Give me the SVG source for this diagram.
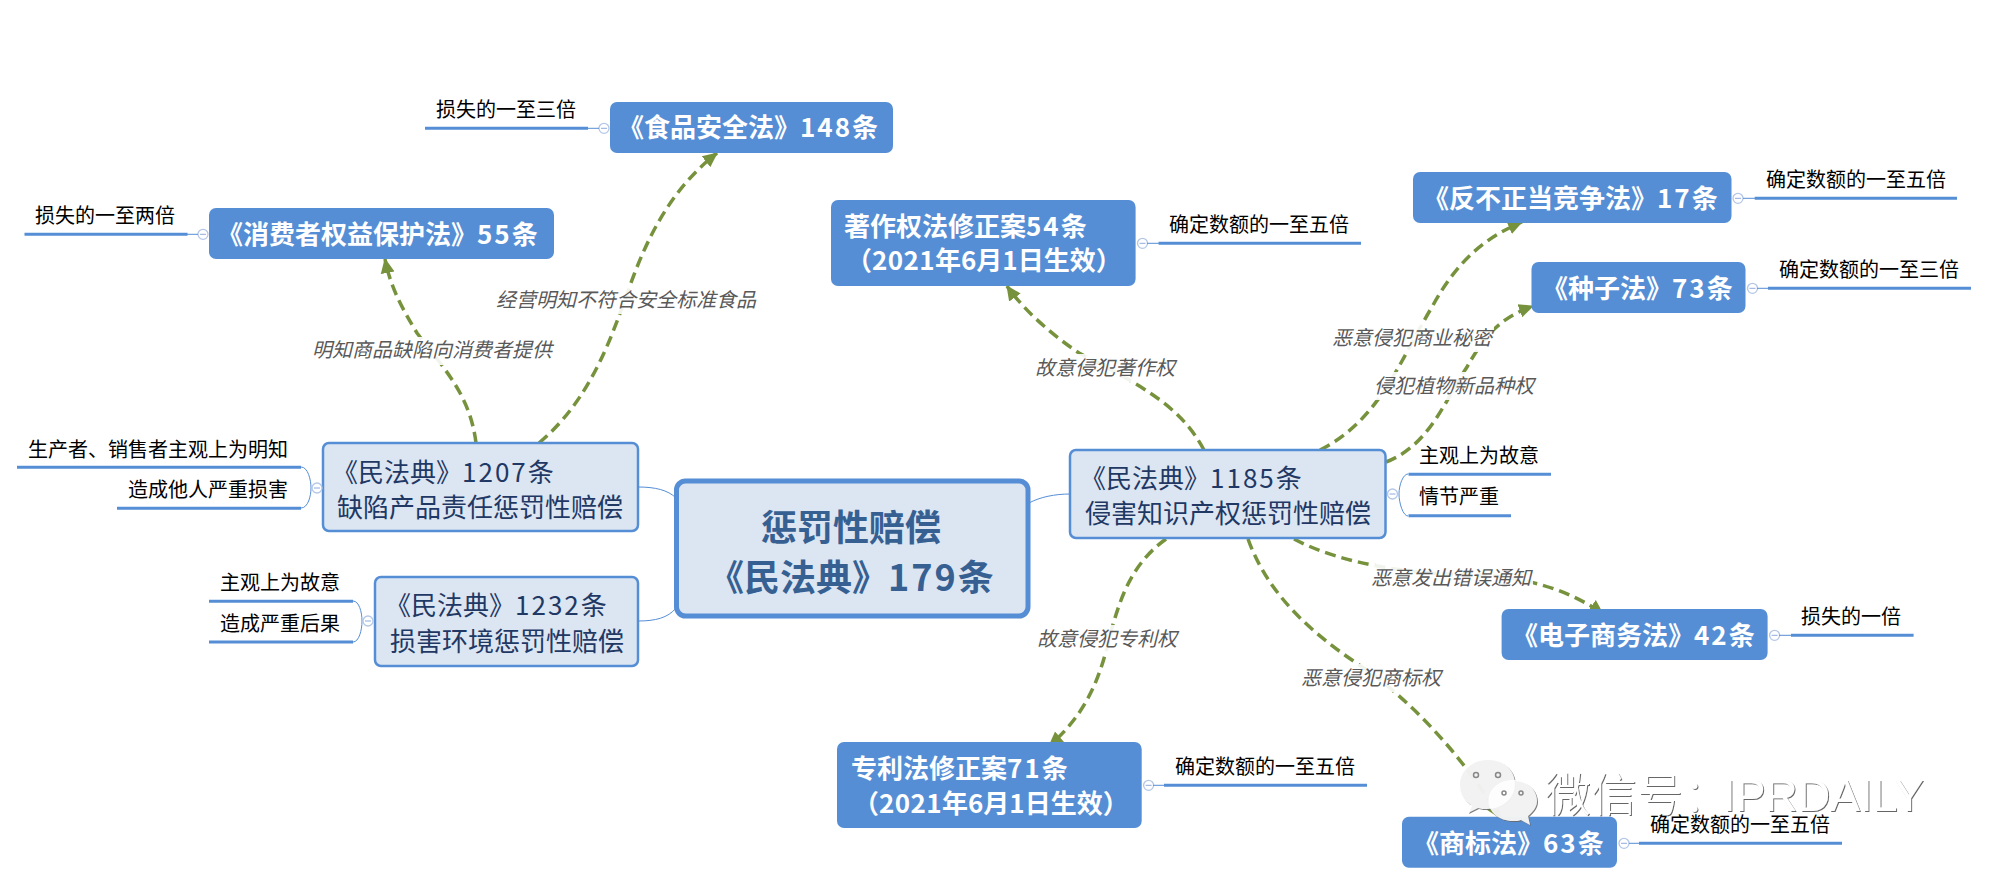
<svg xmlns="http://www.w3.org/2000/svg" width="1989" height="884" viewBox="0 0 1989 884">
<defs>
<style>
text{font-family:"Noto Sans CJK SC","Liberation Sans",sans-serif}
.dk{fill:#558ed5;stroke:none}
.dkt{fill:#fff;font-size:26px;font-weight:700}
.lt{fill:#dce6f2;stroke:#558ed5;stroke-width:2.5}
.ltt{fill:#1f3864;font-size:26px}
.d{letter-spacing:2px}
.d2{letter-spacing:.4px}
.it{fill:#000;font-size:20px}
.ul{stroke:#558ed5;stroke-width:3;fill:none}
.thin{stroke:#558ed5;stroke-width:1;fill:none}
.col{fill:#fff;stroke:#b4c7e7;stroke-width:1.3}
.min{stroke:#8faadc;stroke-width:1}
.rel{stroke:#76923c;stroke-width:3.5;stroke-dasharray:11 6;fill:none;marker-end:url(#ah)}
.lb{fill:#595959;font-size:20px;font-style:italic}
.bg{fill:#fff;fill-opacity:.9}
</style>
<marker id="ah" markerUnits="userSpaceOnUse" markerWidth="16" markerHeight="16" refX="14" refY="8" orient="auto"><path d="M0 1L15 8L0 15z" fill="#76923c"/></marker>
<filter id="emb" x="-5%" y="-10%" width="110%" height="120%"><feDropShadow dx="1" dy="1" stdDeviation="0.4" flood-color="#666"/></filter>
</defs>
<rect width="1989" height="884" fill="#fff"/>
<g id="connectors">
<path class="thin" d="M638 487C655 487 668 490 676 498"/>
<path class="thin" d="M638 621C655 621 668 618 676 608"/>
<path class="thin" d="M1029 503C1040 497 1055 494 1070 494"/>
<path class="thin" d="M301 467C308 467 311 480 311 488C311 496 308 508 301 508"/>
<path class="thin" d="M353 601C359 601 362 612 362 621C362 630 359 642 353 642"/>
<path class="thin" d="M1408 474C1403 474 1399 485 1399 494C1399 503 1403 516 1408 516"/>
<path class="rel" d="M476 443C470 395 445 370 417 333C400 305 390 285 385 259"/>
<path class="rel" d="M539 443C590 400 610 340 625 300C645 240 670 190 717 153"/>
<path class="rel" d="M1204 450C1180 405 1140 385 1079 353C1045 330 1020 305 1007 286"/>
<path class="rel" d="M1320 450C1380 420 1400 360 1432 307C1455 265 1480 240 1522 222"/>
<path class="rel" d="M1386 462C1430 445 1445 400 1467 367C1485 335 1500 318 1533 306"/>
<path class="rel" d="M1294 539C1345 566 1420 575 1480 575C1525 577 1570 590 1603 614"/>
<path class="rel" d="M1166 539C1130 565 1120 600 1110 635C1100 680 1085 715 1049 746"/>
<path class="rel" d="M1248 539C1270 600 1320 640 1370 672C1420 710 1465 760 1500 818"/>
</g>
<g id="relation-labels">
<rect class="bg" x="312" y="337" width="241" height="28"/><text class="lb" x="312" y="357">明知商品缺陷向消费者提供</text>
<rect class="bg" x="496" y="286" width="261" height="28"/><text class="lb" x="496" y="307">经营明知不符合安全标准食品</text>
<rect class="bg" x="1036" y="354" width="141" height="28"/><text class="lb" x="1035" y="375">故意侵犯著作权</text>
<rect class="bg" x="1334" y="324" width="160" height="28"/><text class="lb" x="1332" y="345">恶意侵犯商业秘密</text>
<rect class="bg" x="1375" y="372" width="160" height="28"/><text class="lb" x="1374" y="393">侵犯植物新品种权</text>
<rect class="bg" x="1372" y="564" width="161" height="28"/><text class="lb" x="1371" y="585">恶意发出错误通知</text>
<rect class="bg" x="1038" y="625" width="140" height="28"/><text class="lb" x="1037" y="646">故意侵犯专利权</text>
<rect class="bg" x="1303" y="664" width="141" height="28"/><text class="lb" x="1301" y="685">恶意侵犯商标权</text>
</g>
<g id="central"><rect x="676.5" y="481" width="351.5" height="135" rx="9" fill="#dce6f2" stroke="#558ed5" stroke-width="5"/><text fill="#376092" font-size="36" font-weight="700"><tspan x="761" y="541">惩罚性赔偿</tspan><tspan x="708" y="591">《民法典》<tspan class="d">179</tspan>条</tspan></text></g>
<g id="n1207"><rect class="lt" x="323" y="443" width="315" height="88" rx="6"/><text class="ltt"><tspan x="332" y="482">《民法典》<tspan class="d">1207</tspan>条</tspan><tspan x="337" y="517">缺陷产品责任惩罚性赔偿</tspan></text><circle class="col" cx="317" cy="488" r="5"/><path class="min" d="M314 488h6"/></g>
<g id="n1232"><rect class="lt" x="375" y="577" width="263" height="89" rx="6"/><text class="ltt"><tspan x="385" y="615">《民法典》<tspan class="d">1232</tspan>条</tspan><tspan x="390" y="651">损害环境惩罚性赔偿</tspan></text><circle class="col" cx="368" cy="621" r="5"/><path class="min" d="M365 621h6"/></g>
<g id="n1185"><rect class="lt" x="1070" y="450" width="315.500" height="88" rx="6"/><text class="ltt"><tspan x="1080" y="488">《民法典》<tspan class="d">1185</tspan>条</tspan><tspan x="1085" y="523">侵害知识产权惩罚性赔偿</tspan></text><circle class="col" cx="1392.500" cy="494" r="5"/><path class="min" d="M1389.500 494h6"/></g>
<g id="i-1207a"><text class="it" x="28" y="457">生产者、销售者主观上为明知</text><path class="ul" d="M17 467.300H301"/></g>
<g id="i-1207b"><text class="it" x="128" y="497">造成他人严重损害</text><path class="ul" d="M117 508.300H301"/></g>
<g id="i-1232a"><text class="it" x="220" y="590">主观上为故意</text><path class="ul" d="M209 601.300H353"/></g>
<g id="i-1232b"><text class="it" x="220" y="631">造成严重后果</text><path class="ul" d="M209 642H353"/></g>
<g id="i-1185a"><text class="it" x="1419" y="463">主观上为故意</text><path class="ul" d="M1408.500 474.300H1551"/></g>
<g id="i-1185b"><text class="it" x="1419" y="504">情节严重</text><path class="ul" d="M1408.500 515.700H1511"/></g>
<g id="food"><rect class="dk" x="610" y="102" width="283" height="51" rx="7"/><text class="dkt" x="618" y="137">《食品安全法》<tspan class="d">148</tspan>条</text><circle class="col" cx="604" cy="128.300" r="5"/><path class="min" d="M601 128.300h6"/><path class="thin" d="M588 128.300H599"/><text class="it" x="436" y="117">损失的一至三倍</text><path class="ul" d="M425 128.300H588"/></g>
<g id="consumer"><rect class="dk" x="209" y="208" width="345" height="51" rx="7"/><text class="dkt" x="217" y="244">《消费者权益保护法》<tspan class="d">55</tspan>条</text><circle class="col" cx="203" cy="234.300" r="5"/><path class="min" d="M200 234.300h6"/><path class="thin" d="M187 234.300H198"/><text class="it" x="35" y="223">损失的一至两倍</text><path class="ul" d="M24.500 234.300H187.500"/></g>
<g id="copyright"><rect class="dk" x="831" y="200" width="304.600" height="86" rx="7"/><text class="dkt"><tspan x="844" y="236">著作权法修正案<tspan class="d">54</tspan>条</tspan><tspan x="846" y="270">（<tspan class="d2">2021</tspan>年6月1日生效）</tspan></text><circle class="col" cx="1142.500" cy="243.300" r="5"/><path class="min" d="M1139.500 243.300h6"/><path class="thin" d="M1147 243.300H1159"/><text class="it" x="1169" y="232">确定数额的一至五倍</text><path class="ul" d="M1158.600 243.300H1361"/></g>
<g id="unfair"><rect class="dk" x="1413" y="172" width="318.500" height="51" rx="7"/><text class="dkt" x="1423" y="208">《反不正当竞争法》<tspan class="d">17</tspan>条</text><circle class="col" cx="1738" cy="198.300" r="5"/><path class="min" d="M1735 198.300h6"/><path class="thin" d="M1743 198.300H1755"/><text class="it" x="1766" y="187">确定数额的一至五倍</text><path class="ul" d="M1754.700 198.300H1957"/></g>
<g id="seed"><rect class="dk" x="1531.500" y="262" width="214" height="51" rx="7"/><text class="dkt" x="1542" y="298">《种子法》<tspan class="d">73</tspan>条</text><circle class="col" cx="1752.500" cy="288.300" r="5"/><path class="min" d="M1749.500 288.300h6"/><path class="thin" d="M1757 288.300H1768"/><text class="it" x="1779" y="277">确定数额的一至三倍</text><path class="ul" d="M1768 288.300H1971"/></g>
<g id="ecom"><rect class="dk" x="1501.600" y="609" width="266" height="51" rx="7"/><text class="dkt" x="1512" y="645">《电子商务法》<tspan class="d">42</tspan>条</text><circle class="col" cx="1774.600" cy="635.300" r="5"/><path class="min" d="M1771.600 635.300h6"/><path class="thin" d="M1779 635.300H1791"/><text class="it" x="1801" y="624">损失的一倍</text><path class="ul" d="M1791 635.300H1913.600"/></g>
<g id="patent"><rect class="dk" x="837" y="742" width="304.700" height="86" rx="7"/><text class="dkt"><tspan x="851" y="778">专利法修正案<tspan class="d">71</tspan>条</tspan><tspan x="853" y="813">（<tspan class="d2">2021</tspan>年6月1日生效）</tspan></text><circle class="col" cx="1148.600" cy="785.300" r="5"/><path class="min" d="M1145.600 785.300h6"/><path class="thin" d="M1153 785.300H1164"/><text class="it" x="1175" y="774">确定数额的一至五倍</text><path class="ul" d="M1164 785.300H1367"/></g>
<g id="trademark"><rect class="dk" x="1402" y="816.700" width="215" height="51" rx="7"/><text class="dkt" x="1413" y="853">《商标法》<tspan class="d">63</tspan>条</text></g>
<g id="watermark" filter="url(#emb)" fill="#fff">
<path fill-opacity=".85" d="M1487 759C1471 759 1459 770 1459 784C1459 793 1464 800 1471 805L1468 813L1478 808C1481 809 1484 809 1487 809C1503 809 1515 798 1515 784C1515 770 1503 759 1487 759z"/>
<path fill-opacity=".85" d="M1513 780C1499 780 1488.500 789 1488.500 801C1488.500 812 1499 821 1513 821C1516 821 1519 821 1521 820L1530 825L1528 816C1533 812 1537 807 1537 801C1537 789 1526 780 1513 780z"/>
<text font-size="46" font-weight="300" x="1545" y="811">微信号：</text>
<text font-size="45" font-weight="300" x="1723" y="811" style="font-family:'Liberation Sans',sans-serif" textLength="201">IPRDAILY</text>
</g>
<g id="wm-eyes" fill="none" stroke="#888" stroke-width="1.500"><circle cx="1476" cy="775" r="2.500"/><circle cx="1498" cy="775" r="2.500"/><circle cx="1504" cy="793" r="2"/><circle cx="1521" cy="793" r="2"/></g>
<g id="trademark-item"><circle class="col" cx="1624" cy="843.300" r="5"/><path class="min" d="M1621 843.300h6"/><path class="thin" d="M1629 843.300H1639"/><text class="it" x="1650" y="832">确定数额的一至五倍</text><path class="ul" d="M1639 843.300H1842"/></g>
</svg>
